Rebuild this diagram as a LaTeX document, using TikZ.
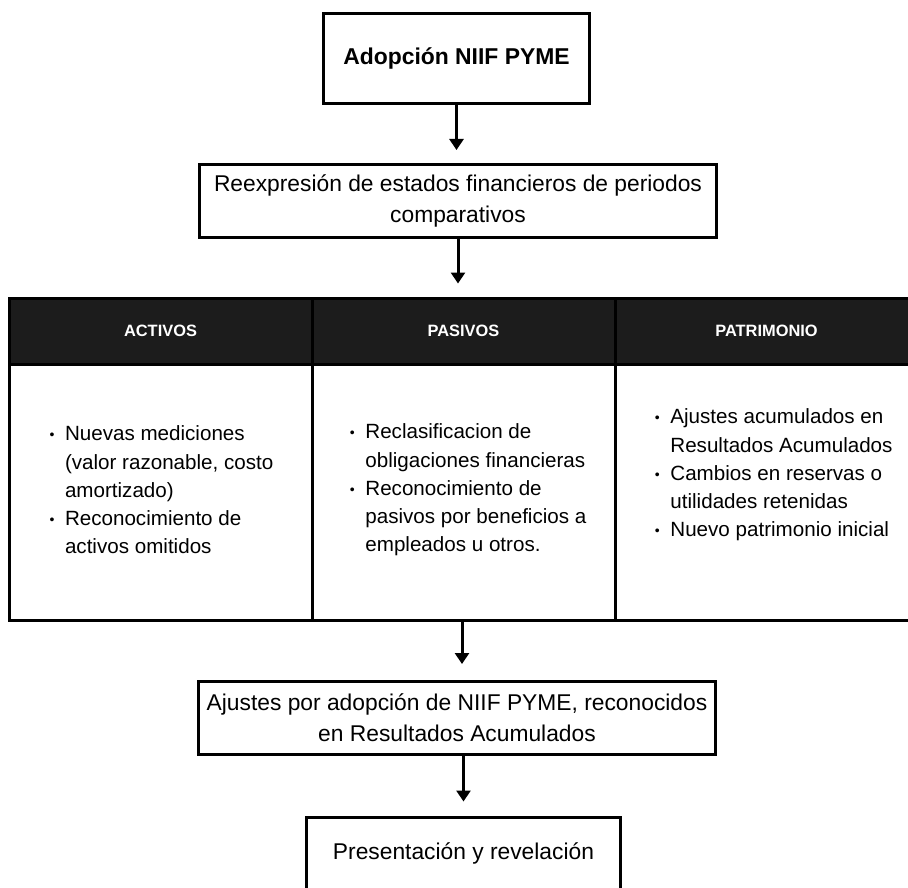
\documentclass[tikz,border=0pt]{standalone}
\usepackage{fontspec}
\setmainfont{Liberation Sans}
\usetikzlibrary{arrows.meta,calc}
\definecolor{hdr}{HTML}{1C1C1C}
\newcommand{\mybul}{\makebox[15.5pt][l]{\raisebox{1pt}{\fontsize{14}{14}\selectfont •}}}
\newcommand{\mygap}{\makebox[15.5pt]{}}
\begin{document}
\begin{tikzpicture}[x=1pt,y=-1pt,
  box/.style={draw, line width=3pt, align=center, inner sep=0pt, font=\fontsize{22.8}{31}\selectfont},
  hcell/.style={draw, line width=3pt, fill=hdr, text=white, font=\bfseries\fontsize{16.4}{20}\selectfont, minimum width=303pt, minimum height=66pt, inner sep=0pt},
  bcell/.style={draw, line width=3pt, minimum width=303pt, minimum height=256pt, inner sep=0pt},
  btxt/.style={anchor=west, align=left, inner sep=0pt, font=\fontsize{20.6}{28.3}\selectfont},
  arr/.style={line width=3pt, -{Triangle[width=14pt,length=11pt]}}]
\useasboundingbox (0,0) rectangle (908,888);
\clip (0,0) rectangle (908,888);

% boxes
\node[box, minimum width=266pt, minimum height=90pt, font=\bfseries\fontsize{22.9}{28}\selectfont] (b1) at (456.5,58.5) {Adopción NIIF PYME};
\node[box, minimum width=517pt, minimum height=73pt] (b2) at (458,201) {Reexpresión de estados financieros de periodos\\comparativos};

% table header
\node[hcell] (h1) at (160.5,331) {ACTIVOS};
\node[hcell] (h2) at (463.5,331) {PASIVOS};
\node[hcell] (h3) at (766.5,331) {PATRIMONIO};
% table body
\node[bcell] (c1) at (160.5,492) {};
\node[bcell] (c2) at (463.5,492) {};
\node[bcell] (c3) at (766.5,492) {};

\node[btxt] (t1) at (49.3,490) {\mybul Nuevas mediciones\\\mygap(valor razonable, costo\\\mygap amortizado)\\\mybul Reconocimiento de\\\mygap activos omitidos};
\node[btxt] (t2) at (349.7,490) {\mybul Reclasificacion de\\\mygap obligaciones financieras\\\mybul Reconocimiento de\\\mygap pasivos por beneficios a\\\mygap empleados u otros.};
\node[btxt] (t3) at (654.7,475) {\mybul Ajustes acumulados en\\\mygap Resultados Acumulados\\\mybul Cambios en reservas o\\\mygap utilidades retenidas\\\mybul Nuevo patrimonio inicial};

\node[box, minimum width=517pt, minimum height=73pt] (b3) at (457,718) {Ajustes por adopción de NIIF PYME, reconocidos\\en Resultados Acumulados};
\node[box, minimum width=314pt, minimum height=72pt] (b4) at (463.5,853) {Presentación y revelación};

% arrows
\draw[arr, shorten >=13pt] (b1.south) -- (b1.south |- b2.north);
\draw[arr, shorten >=13pt] (b2.south) -- (b2.south |- h2.north);
\draw[arr, shorten >=16pt] ($(c2.south)+(-1.5,0)$) -- ($(c2.south |- b3.north)+(-1.5,0)$);
\draw[arr, shorten >=14pt] (b3.south -| b4.north) -- (b4.north);
\end{tikzpicture}
\end{document}
